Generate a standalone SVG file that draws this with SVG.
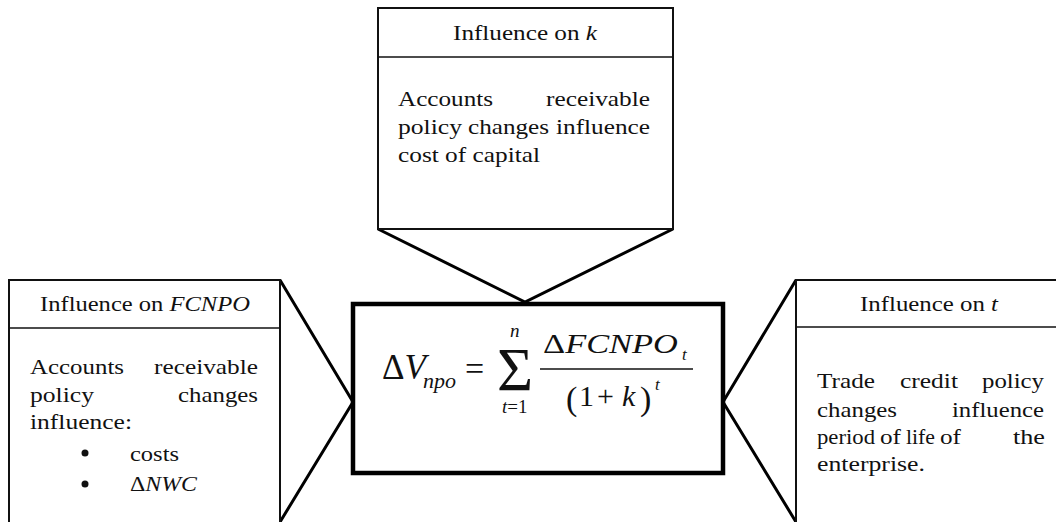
<svg xmlns="http://www.w3.org/2000/svg" width="1056" height="522" viewBox="0 0 1056 522">
<style>
.box{fill:#fff;stroke:#111;stroke-width:2}
.sep{stroke:#111;stroke-width:1.5}
.con{fill:none;stroke:#000;stroke-width:3}
.t{font-family:"Liberation Serif","Times New Roman","DejaVu Serif",serif;font-size:22px;fill:#111}
.i{font-style:italic}
.m{font-family:"Liberation Serif","Times New Roman","DejaVu Serif",serif;fill:#111}
</style>
<g id="connectors">
<polyline class="con" points="378,229 525,302 673,229"/>
<polyline class="con" points="280,280 353,402 280,522"/>
<polyline class="con" points="796,280 723,402 796,522"/>
</g>
<g id="node-k">
<rect class="box" x="378" y="8" width="295" height="221"/>
<line class="sep" x1="378" y1="57" x2="673" y2="57"/>
<text class="t" x="453" y="40" textLength="144" lengthAdjust="spacingAndGlyphs">Influence on <tspan class="i">k</tspan></text>
<text class="t" x="398" y="106" textLength="95" lengthAdjust="spacingAndGlyphs">Accounts</text>
<text class="t" x="546" y="106" textLength="104" lengthAdjust="spacingAndGlyphs">receivable</text>
<text class="t" x="398" y="134" textLength="64" lengthAdjust="spacingAndGlyphs">policy</text>
<text class="t" x="468" y="134" textLength="81" lengthAdjust="spacingAndGlyphs">changes</text>
<text class="t" x="556" y="134" textLength="94" lengthAdjust="spacingAndGlyphs">influence</text>
<text class="t" x="398" y="162" textLength="142" lengthAdjust="spacingAndGlyphs">cost of capital</text>
</g>
<g id="node-fcnpo">
<rect class="box" x="9" y="280" width="271" height="250"/>
<line class="sep" x1="9" y1="328" x2="280" y2="328"/>
<text class="t" x="40" y="311" textLength="210" lengthAdjust="spacingAndGlyphs">Influence on <tspan class="i">FCNPO</tspan></text>
<text class="t" x="30" y="374" textLength="94" lengthAdjust="spacingAndGlyphs">Accounts</text>
<text class="t" x="154" y="374" textLength="104" lengthAdjust="spacingAndGlyphs">receivable</text>
<text class="t" x="30" y="402" textLength="64" lengthAdjust="spacingAndGlyphs">policy</text>
<text class="t" x="178" y="402" textLength="80" lengthAdjust="spacingAndGlyphs">changes</text>
<text class="t" x="30" y="429" textLength="102" lengthAdjust="spacingAndGlyphs">influence:</text>
<circle cx="85" cy="453" r="3.5" fill="#111"/>
<text class="t" x="130" y="461" textLength="49" lengthAdjust="spacingAndGlyphs">costs</text>
<circle cx="85" cy="484" r="3.5" fill="#111"/>
<text class="t" x="130" y="491" textLength="67" lengthAdjust="spacingAndGlyphs">Δ<tspan class="i">NWC</tspan></text>
</g>
<g id="node-formula">
<rect x="353" y="304" width="370" height="169" fill="#fff" stroke="#000" stroke-width="4.5"/>
<text class="m" x="382" y="379" font-size="35">Δ<tspan font-style="italic">V</tspan></text>
<text class="m" x="423" y="388" font-size="22" font-style="italic">npo</text>
<text class="m" x="465" y="380" font-size="34">=</text>
<text class="m" x="497" y="390" font-size="62">Σ</text>
<text class="m" x="510" y="337" font-size="19" font-style="italic">n</text>
<text class="m" x="502" y="413" font-size="19"><tspan font-style="italic">t</tspan>=1</text>
<text class="m" x="543" y="353" font-size="27" textLength="135" lengthAdjust="spacingAndGlyphs">Δ<tspan font-style="italic">FCNPO</tspan></text>
<text class="m" x="682" y="360" font-size="17" font-style="italic">t</text>
<line x1="540" y1="369" x2="693" y2="369" stroke="#111" stroke-width="1.5"/>
<text class="m" x="566" y="410" font-size="34">(</text>
<text class="m" x="579" y="406" font-size="30">1</text>
<text class="m" x="597" y="406" font-size="30">+</text>
<text class="m" x="622" y="406" font-size="30" font-style="italic">k</text>
<text class="m" x="640" y="410" font-size="34">)</text>
<text class="m" x="655" y="390" font-size="17" font-style="italic">t</text>
</g>
<g id="node-t">
<rect class="box" x="796" y="280" width="270" height="250"/>
<line class="sep" x1="796" y1="327" x2="1056" y2="327"/>
<text class="t" x="860" y="311" textLength="138" lengthAdjust="spacingAndGlyphs">Influence on <tspan class="i">t</tspan></text>
<text class="t" x="817" y="388" textLength="58" lengthAdjust="spacingAndGlyphs">Trade</text>
<text class="t" x="900" y="388" textLength="58" lengthAdjust="spacingAndGlyphs">credit</text>
<text class="t" x="982" y="388" textLength="62" lengthAdjust="spacingAndGlyphs">policy</text>
<text class="t" x="817" y="417" textLength="80" lengthAdjust="spacingAndGlyphs">changes</text>
<text class="t" x="952" y="417" textLength="92" lengthAdjust="spacingAndGlyphs">influence</text>
<text class="t" x="817" y="444" textLength="58" lengthAdjust="spacingAndGlyphs">period</text>
<text class="t" x="880" y="444" textLength="21" lengthAdjust="spacingAndGlyphs">of</text>
<text class="t" x="906" y="444" textLength="29" lengthAdjust="spacingAndGlyphs">life</text>
<text class="t" x="940" y="444" textLength="21" lengthAdjust="spacingAndGlyphs">of</text>
<text class="t" x="1013" y="444" textLength="32" lengthAdjust="spacingAndGlyphs">the</text>
<text class="t" x="817" y="471" textLength="108" lengthAdjust="spacingAndGlyphs">enterprise.</text>
</g>
</svg>
